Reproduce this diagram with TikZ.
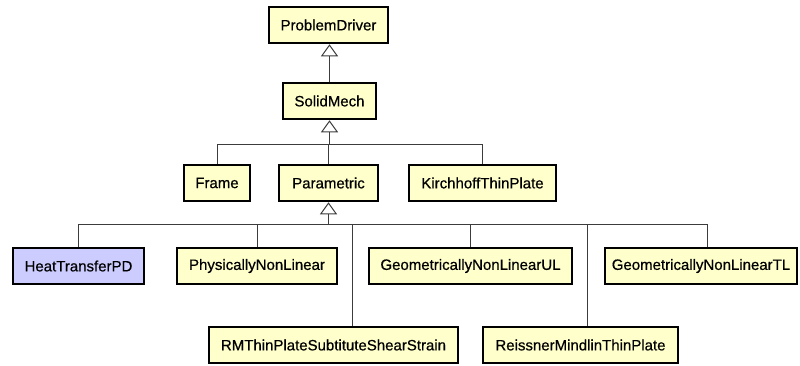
\documentclass[tikz,border=0pt]{standalone}
\usepackage{fontspec}
\setmainfont{Liberation Sans}
\newfontfamily\classfont[FakeBold=0.6]{Liberation Sans}
\usepackage{tikz}
\usetikzlibrary{arrows.meta, positioning}
\definecolor{classfill}{HTML}{FFFFCC}
\definecolor{pdfill}{HTML}{CCCCFF}
\definecolor{linkgray}{HTML}{3C3C3C}

\begin{document}
\begin{tikzpicture}[x=1pt, y=-1pt,
        cls/.style={draw=black, line width=2.5pt, fill=classfill, minimum height=36pt, inner sep=0pt, font=\classfont\fontsize{15}{18}\selectfont},
        link/.style={draw=linkgray, line width=1pt},
        inh/.style={link, -{Triangle[length=12pt, width=17pt, fill=white]}}]
        \useasboundingbox (0,0) rectangle (800,365);
        \node[cls, minimum width=119pt] (driver) at (328.5,25) {ProblemDriver};
        \node[cls, minimum width=93pt] (solid) at (329.5,101) {SolidMech};
        \node[cls, minimum width=66pt] (frame) at (217,183) {Frame};
        \node[cls, minimum width=99pt] (param) at (328.5,183) {Parametric};
        \node[cls, minimum width=147pt] (kirch) at (482.5,183) {KirchhoffThinPlate};
        \node[cls, minimum width=131pt, fill=pdfill] (heat) at (78.5,266) {HeatTransferPD};
        \node[cls, minimum width=160pt] (phys) at (257,266) {PhysicallyNonLinear};
        \node[cls, minimum width=203pt] (gul) at (470.5,266) {GeometricallyNonLinearUL};
        \node[cls, minimum width=192pt] (gtl) at (701,266) {GeometricallyNonLinearTL};
        \node[cls, minimum width=249pt] (rm) at (333.5,345) {RMThinPlateSubtituteShearStrain};
        \node[cls, minimum width=195pt] (reiss) at (580.5,345) {ReissnerMindlinThinPlate};
        \coordinate (bus1) at (329,144);
        \coordinate (bus2) at (329,224);

        \draw[inh] (solid.north) -- (solid.north |- driver.south);
        \draw[link] (frame.north) |- (kirch.north |- bus1) -- (kirch.north);
        \draw[link] (param.north) -- (param.north |- bus1);
        \draw[inh] (solid.south |- bus1) -- (solid.south);
        \draw[link] (heat.north) |- ([xshift=6pt]gtl.north |- bus2) -- ([xshift=6pt]gtl.north);
        \draw[link] (phys.north) -- (phys.north |- bus2);
        \draw[link] (gul.north) -- (gul.north |- bus2);
        \draw[link] ([xshift=18.5pt]rm.north) -- ([xshift=18.5pt]rm.north |- bus2);
        \draw[link] ([xshift=6.5pt]reiss.north) -- ([xshift=6.5pt]reiss.north |- bus2);
        \draw[inh] (param.south |- bus2) -- (param.south);
\end{tikzpicture}
\end{document}
